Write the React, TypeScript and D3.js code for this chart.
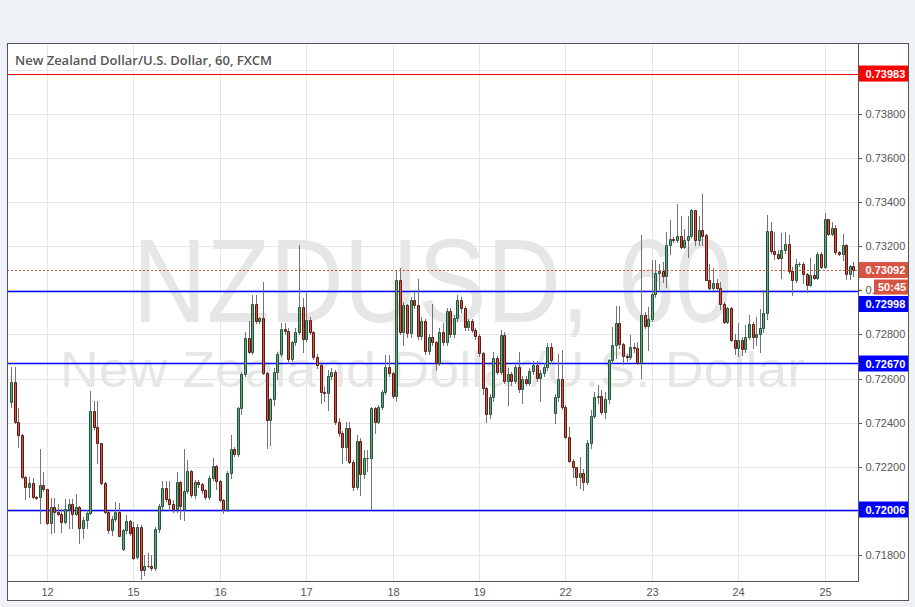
import React from "react";
import * as d3 from "d3";

// ---- data ----
const opens = [
0.72495,0.72583,0.72405,0.72344,0.72153,0.72107,0.72125,0.72062,0.72062,0.72116,
0.72098,0.71944,0.72017,0.71997,0.71985,0.71951,0.72007,0.72030,0.71985,0.72017,
0.71921,0.71959,0.71989,0.72453,0.72379,0.72307,0.72125,0.71994,0.71911,0.71962,
0.71994,0.71826,0.71914,0.71956,0.71926,0.71790,0.71926,0.71730,0.71751,0.71751,
0.71739,0.71917,0.72023,0.72103,0.72053,0.72030,0.72009,0.72130,0.72009,0.72091,
0.72181,0.72072,0.72130,0.72122,0.72095,0.72062,0.72148,0.72204,0.72137,0.72050,
0.72007,0.72171,0.72279,0.72257,0.72465,0.72621,0.72782,0.72722,0.72940,0.72862,
0.72873,0.72627,0.72412,0.72506,0.72631,0.72711,0.72823,0.72817,0.72687,0.72764,
0.72812,0.72923,0.72778,0.72865,0.72809,0.72699,0.72661,0.72540,0.72533,0.72613,
0.72628,0.72405,0.72355,0.72291,0.72374,0.72220,0.72110,0.72317,0.72166,0.72239,
0.72239,0.72465,0.72405,0.72473,0.72541,0.72654,0.72624,0.72523,0.73047,0.72812,
0.72933,0.72805,0.72956,0.72933,0.72793,0.72862,0.72726,0.72790,0.72764,0.72669,
0.72813,0.72764,0.72906,0.72800,0.72876,0.72956,0.72918,0.72832,0.72861,0.72820,
0.72794,0.72714,0.72556,0.72438,0.72518,0.72692,0.72631,0.72797,0.72590,0.72621,
0.72590,0.72654,0.72551,0.72598,0.72581,0.72634,0.72661,0.72601,0.72624,0.72654,
0.72745,0.72443,0.72518,0.72598,0.72473,0.72337,0.72228,0.72197,0.72155,0.72170,
0.72129,0.72306,0.72430,0.72518,0.72522,0.72447,0.72507,0.72684,0.72752,0.72850,
0.72755,0.72703,0.72699,0.72744,0.72740,0.72672,0.72887,0.72839,0.72872,0.72985,
0.73080,0.73086,0.73065,0.73204,0.73231,0.73228,0.73245,0.73197,0.73227,0.73245,
0.73363,0.73230,0.73272,0.73250,0.73049,0.73012,0.73035,0.73012,0.72940,0.72857,
0.72920,0.72774,0.72739,0.72777,0.72736,0.72789,0.72847,0.72789,0.72804,0.72827,
0.72895,0.73268,0.73178,0.73166,0.73148,0.73185,0.73209,0.73088,0.73049,0.73118,
0.73121,0.73076,0.73026,0.73071,0.73056,0.73166,0.73106,0.73325,0.73257,0.73284,
0.73174,0.73166,0.73204,0.73076,0.73109
];
const highs = [
0.72654,0.72654,0.72465,0.72350,0.72160,0.72153,0.72148,0.72068,0.72279,0.72174,
0.72100,0.72057,0.72057,0.72030,0.72007,0.72053,0.72053,0.72053,0.72075,0.72020,
0.71974,0.72004,0.72544,0.72499,0.72499,0.72310,0.72130,0.71998,0.71977,0.72038,
0.72035,0.71920,0.71981,0.71960,0.71950,0.71940,0.71935,0.71800,0.71810,0.71800,
0.71925,0.72030,0.72135,0.72135,0.72135,0.72050,0.72174,0.72135,0.72279,0.72230,
0.72185,0.72140,0.72140,0.72125,0.72100,0.72160,0.72240,0.72210,0.72140,0.72055,
0.72180,0.72344,0.72290,0.72470,0.72630,0.72812,0.72860,0.72978,0.72978,0.72880,
0.73039,0.72630,0.72510,0.72650,0.72720,0.72854,0.72850,0.72830,0.72770,0.72830,
0.73205,0.72963,0.72986,0.72880,0.72815,0.72710,0.72665,0.72560,0.72639,0.72650,
0.72640,0.72420,0.72360,0.72405,0.72405,0.72230,0.72344,0.72330,0.72276,0.72276,
0.72470,0.72470,0.72480,0.72550,0.72707,0.72707,0.72630,0.73089,0.73099,0.72945,
0.72940,0.72970,0.73001,0.73050,0.72880,0.72870,0.72800,0.72940,0.72770,0.72830,
0.72850,0.72920,0.72920,0.72890,0.72979,0.72970,0.72930,0.72870,0.72870,0.72830,
0.72800,0.72720,0.72560,0.72530,0.72722,0.72700,0.72820,0.72810,0.72650,0.72630,
0.72660,0.72722,0.72610,0.72610,0.72650,0.72680,0.72680,0.72640,0.72670,0.72760,
0.72760,0.72530,0.72710,0.72730,0.72480,0.72380,0.72235,0.72200,0.72243,0.72190,
0.72320,0.72457,0.72540,0.72570,0.72548,0.72537,0.72690,0.72835,0.72928,0.72928,
0.72760,0.72710,0.72797,0.72760,0.72767,0.73250,0.72903,0.72925,0.73136,0.73136,
0.73118,0.73129,0.73265,0.73317,0.73240,0.73393,0.73337,0.73280,0.73337,0.73370,
0.73363,0.73337,0.73435,0.73255,0.73121,0.73099,0.73050,0.73038,0.72945,0.72925,
0.72925,0.72800,0.72850,0.72790,0.72845,0.72888,0.72855,0.72880,0.72915,0.73000,
0.73340,0.73310,0.73265,0.73182,0.73262,0.73265,0.73250,0.73106,0.73144,0.73130,
0.73130,0.73080,0.73148,0.73121,0.73174,0.73174,0.73351,0.73325,0.73310,0.73295,
0.73180,0.73257,0.73210,0.73115,0.73129
];
const lows = [
0.72473,0.72397,0.72288,0.72150,0.72053,0.72062,0.72057,0.72055,0.71944,0.72090,
0.71940,0.71899,0.71903,0.71980,0.71903,0.71945,0.71921,0.71921,0.71980,0.71853,
0.71876,0.71921,0.71985,0.72370,0.72219,0.72120,0.71990,0.71899,0.71891,0.71955,
0.71885,0.71823,0.71899,0.71891,0.71781,0.71786,0.71690,0.71710,0.71745,0.71730,
0.71730,0.71905,0.72010,0.72045,0.72004,0.71995,0.71995,0.71962,0.71960,0.72080,
0.72065,0.72060,0.72110,0.72080,0.72055,0.72055,0.72140,0.72100,0.72045,0.71990,
0.72000,0.72150,0.72250,0.72250,0.72440,0.72610,0.72715,0.72710,0.72854,0.72850,
0.72620,0.72284,0.72299,0.72480,0.72600,0.72700,0.72800,0.72670,0.72680,0.72750,
0.72800,0.72722,0.72770,0.72800,0.72690,0.72650,0.72488,0.72500,0.72458,0.72600,
0.72395,0.72340,0.72216,0.72231,0.72215,0.72095,0.72100,0.72072,0.72150,0.72180,
0.72009,0.72352,0.72400,0.72460,0.72530,0.72610,0.72510,0.72500,0.72800,0.72750,
0.72790,0.72790,0.72920,0.72780,0.72780,0.72710,0.72710,0.72750,0.72639,0.72660,
0.72750,0.72750,0.72790,0.72790,0.72860,0.72900,0.72820,0.72820,0.72810,0.72780,
0.72700,0.72530,0.72405,0.72420,0.72500,0.72620,0.72620,0.72580,0.72480,0.72570,
0.72580,0.72540,0.72488,0.72570,0.72570,0.72620,0.72590,0.72500,0.72610,0.72640,
0.72670,0.72400,0.72500,0.72460,0.72330,0.72220,0.72155,0.72117,0.72102,0.72095,
0.72120,0.72284,0.72420,0.72490,0.72440,0.72422,0.72490,0.72670,0.72691,0.72740,
0.72668,0.72680,0.72690,0.72720,0.72668,0.72601,0.72830,0.72729,0.72860,0.72970,
0.73008,0.73038,0.73015,0.73166,0.73220,0.73220,0.73190,0.73190,0.73151,0.73240,
0.73204,0.73204,0.73204,0.73045,0.73005,0.73000,0.73005,0.72917,0.72850,0.72850,
0.72770,0.72710,0.72700,0.72706,0.72720,0.72780,0.72740,0.72750,0.72720,0.72810,
0.72870,0.73170,0.73144,0.73140,0.73058,0.73170,0.73080,0.72981,0.73040,0.73110,
0.73031,0.72993,0.73020,0.73050,0.73050,0.73100,0.73100,0.73250,0.73250,0.73166,
0.73160,0.73136,0.73053,0.73053,0.73065
];
const closes = [
0.72583,0.72405,0.72344,0.72153,0.72107,0.72125,0.72062,0.72060,0.72116,0.72098,
0.71944,0.72017,0.71997,0.71985,0.71951,0.72007,0.72030,0.71985,0.72017,0.71921,
0.71959,0.71989,0.72453,0.72379,0.72307,0.72125,0.71994,0.71911,0.71962,0.71994,
0.71888,0.71914,0.71956,0.71900,0.71786,0.71926,0.71730,0.71751,0.71751,0.71739,
0.71917,0.72023,0.72103,0.72053,0.72030,0.72009,0.72130,0.72020,0.72091,0.72181,
0.72072,0.72130,0.72122,0.72095,0.72062,0.72148,0.72204,0.72137,0.72050,0.72007,
0.72171,0.72279,0.72257,0.72465,0.72621,0.72782,0.72722,0.72940,0.72862,0.72873,
0.72627,0.72412,0.72506,0.72631,0.72711,0.72823,0.72817,0.72687,0.72764,0.72812,
0.72925,0.72778,0.72865,0.72809,0.72699,0.72661,0.72540,0.72533,0.72613,0.72628,
0.72405,0.72355,0.72291,0.72374,0.72220,0.72110,0.72317,0.72166,0.72239,0.72239,
0.72465,0.72405,0.72473,0.72541,0.72654,0.72624,0.72523,0.73047,0.72812,0.72933,
0.72805,0.72956,0.72933,0.72793,0.72862,0.72726,0.72790,0.72764,0.72669,0.72813,
0.72764,0.72906,0.72800,0.72876,0.72956,0.72918,0.72832,0.72861,0.72820,0.72794,
0.72714,0.72556,0.72438,0.72518,0.72692,0.72631,0.72797,0.72590,0.72621,0.72590,
0.72654,0.72551,0.72598,0.72581,0.72634,0.72661,0.72601,0.72624,0.72654,0.72745,
0.72684,0.72518,0.72598,0.72473,0.72337,0.72228,0.72197,0.72155,0.72170,0.72129,
0.72306,0.72430,0.72518,0.72522,0.72447,0.72507,0.72684,0.72752,0.72850,0.72755,
0.72703,0.72699,0.72744,0.72740,0.72672,0.72887,0.72839,0.72872,0.72985,0.73080,
0.73086,0.73065,0.73204,0.73231,0.73228,0.73245,0.73197,0.73227,0.73245,0.73363,
0.73230,0.73272,0.73246,0.73049,0.73012,0.73035,0.73012,0.72940,0.72857,0.72920,
0.72774,0.72739,0.72777,0.72736,0.72789,0.72847,0.72789,0.72804,0.72827,0.72895,
0.73268,0.73178,0.73166,0.73148,0.73185,0.73209,0.73088,0.73049,0.73118,0.73121,
0.73076,0.73026,0.73071,0.73056,0.73166,0.73106,0.73325,0.73257,0.73284,0.73174,
0.73166,0.73204,0.73076,0.73109,0.73092
];
const dayStartIndex = [10, 34, 58, 82, 106, 130, 154, 178, 202, 226];
const dayLabels = ["12", "15", "16", "17", "18", "19", "22", "23", "24", "25"];
const priceTicks = [0.718, 0.72, 0.722, 0.724, 0.726, 0.728, 0.73, 0.732, 0.734, 0.736, 0.738, 0.74];
const labelledTicks = [0.718, 0.72, 0.722, 0.724, 0.726, 0.728, 0.73, 0.732, 0.734, 0.736, 0.738];
const resistanceLevel = 0.73983;
const supportLevels = [0.72998, 0.7267, 0.72006];
const lastPrice = 0.73092;
const countdown = "50:45";
const title = "New Zealand Dollar/U.S. Dollar, 60, FXCM";
const watermarkMain = "NZDUSD, 60";
const watermarkSub = "New Zealand Dollar/U.S. Dollar";

// ---- layout ----
const W = 915, H = 607;
const PL = 7, PR = 858, PT = 43, PB = 581;
const FR = 908, FB = 600;

const UP = "#6ba583", UPB = "#225437", DN = "#d75442", DNB = "#5b1a13", WICK = "#737375";

export default function App() {
  const x = d3.scaleLinear().domain([0, 234]).range([11, 853.4]);
  const y = d3.scaleLinear().domain([0.71682, 0.74126]).range([PB, 42]);
  const fmt = (v: number) => v.toFixed(5);
  const axisFont = "'Liberation Sans', Arial, sans-serif";

  const candles = opens.map((o, i) => {
    const c = closes[i], h = highs[i], l = lows[i];
    const cx = Math.round(x(i));
    const up = c >= o;
    const yT = Math.round(y(Math.max(o, c))) + 0.5;
    const yB = Math.round(y(Math.min(o, c))) + 0.5;
    const x0 = cx - 0.5, x1 = cx + 1.5;
    return (
      <g key={i}>
        <line x1={cx + 0.5} x2={cx + 0.5} y1={Math.round(y(h))} y2={Math.round(y(l)) + 1} stroke={WICK} strokeWidth={1} />
        <path d={`M${x0},${yT}H${x1}V${yB}H${x0}Z`} fill={up ? UP : DN} stroke={up ? UPB : DNB} strokeWidth={1} />
      </g>
    );
  });

  const levelLabelY: Record<string, number> = { "0.72998": 304, "0.72670": 363.5, "0.72006": 509.5 };

  return (
    <svg width={W} height={H} style={{ position: "absolute", left: 0, top: 0, display: "block" }}>
      <rect x={0} y={0} width={W} height={H} fill="#eef1f5" />
      <rect x={PL + 0.5} y={PT + 0.5} width={FR - PL} height={FB - PT} fill="#ffffff" stroke="#555" strokeWidth={1} />
      <defs>
        <clipPath id="plot">
          <rect x={PL + 1} y={PT + 1} width={PR - PL - 1} height={PB - PT - 1} />
        </clipPath>
        <clipPath id="axisClip">
          <rect x={PR + 1} y={PT + 1} width={FR - PR - 1} height={PB - PT} />
        </clipPath>
      </defs>
      <g clipPath="url(#plot)">
        {priceTicks.map((t) => (
          <line key={t} x1={PL} x2={PR} y1={Math.round(y(t)) + 0.5} y2={Math.round(y(t)) + 0.5} stroke="#e6e6e6" />
        ))}
        {dayStartIndex.map((d) => (
          <line key={d} x1={Math.round(x(d)) + 0.5} x2={Math.round(x(d)) + 0.5} y1={PT} y2={PB} stroke="#e6e6e6" />
        ))}
        <text x={(PL + PR) / 2} y={322} textAnchor="middle" fontFamily={axisFont} fontSize={118} fill="#e6e6e6" textLength={600} lengthAdjust="spacingAndGlyphs">{watermarkMain}</text>
        <text x={(PL + PR) / 2} y={387} textAnchor="middle" fontFamily={axisFont} fontSize={50} fill="#e6e6e6" textLength={745} lengthAdjust="spacingAndGlyphs">{watermarkSub}</text>
        <line x1={PL} x2={PR} y1={Math.round(y(resistanceLevel)) + 0.5} y2={Math.round(y(resistanceLevel)) + 0.5} stroke="#ff0000" strokeWidth={1} />
        {supportLevels.map((s) => (
          <line key={s} x1={PL} x2={PR} y1={Math.round(y(s)) + 0.5} y2={Math.round(y(s)) + 0.5} stroke="#0000ff" strokeWidth={1.3} />
        ))}
        {candles}
        <line x1={PL} x2={PR} y1={Math.round(y(lastPrice)) + 0.5} y2={Math.round(y(lastPrice)) + 0.5} stroke={DN} strokeWidth={1} strokeDasharray="2,2" />
      </g>
      <text x={15} y={65} fontFamily="'Open Sans', sans-serif" fontWeight={600} fontSize={13} fill="#555">{title}</text>
      {/* axes */}
      <line x1={PR + 0.5} x2={PR + 0.5} y1={PT} y2={PB + 1} stroke="#555" />
      <line x1={PL} x2={PR + 1} y1={PB + 0.5} y2={PB + 0.5} stroke="#555" />
      {priceTicks.map((t) => (
        <line key={t} x1={PR} x2={PR + 4} y1={Math.round(y(t)) + 0.5} y2={Math.round(y(t)) + 0.5} stroke="#555" />
      ))}
      <g clipPath="url(#axisClip)">
        {labelledTicks.map((t) => (
          <text key={t} x={865.5} y={y(t) + 4} fontFamily={axisFont} fontSize={11} fill="#555">{fmt(t)}</text>
        ))}
      </g>
      {dayStartIndex.map((d, k) => (
        <text key={d} x={Math.round(x(d)) + 0.5} y={596} textAnchor="middle" fontFamily={axisFont} fontSize={11} fill="#555">{dayLabels[k]}</text>
      ))}
      {/* level labels */}
      <rect x={PR + 1} y={y(resistanceLevel) - 8} width={FR - PR - 1} height={16} fill="#ff0000" />
      <text x={865.5} y={y(resistanceLevel) + 4} fontFamily={axisFont} fontSize={11} fontWeight="bold" fill="#fff">{fmt(resistanceLevel)}</text>
      <rect x={PR + 1} y={y(lastPrice) - 8} width={FR - PR - 1} height={16} fill={DN} />
      <text x={865.5} y={y(lastPrice) + 4} fontFamily={axisFont} fontSize={11} fontWeight="bold" fill="#fff">{fmt(lastPrice)}</text>
      <rect x={874} y={y(lastPrice) + 9.5} width={FR - 874} height={15} fill={DN} />
      <text x={878} y={y(lastPrice) + 21} fontFamily={axisFont} fontSize={11} fontWeight="bold" fill="#fff">{countdown}</text>
      {supportLevels.map((s) => {
        const cy = levelLabelY[fmt(s)];
        return (
          <g key={s}>
            <rect x={PR + 1} y={cy - 8} width={FR - PR - 1} height={16} fill="#0000ff" />
            <text x={865.5} y={cy + 4} fontFamily={axisFont} fontSize={11} fontWeight="bold" fill="#fff">{fmt(s)}</text>
          </g>
        );
      })}
    </svg>
  );
}
